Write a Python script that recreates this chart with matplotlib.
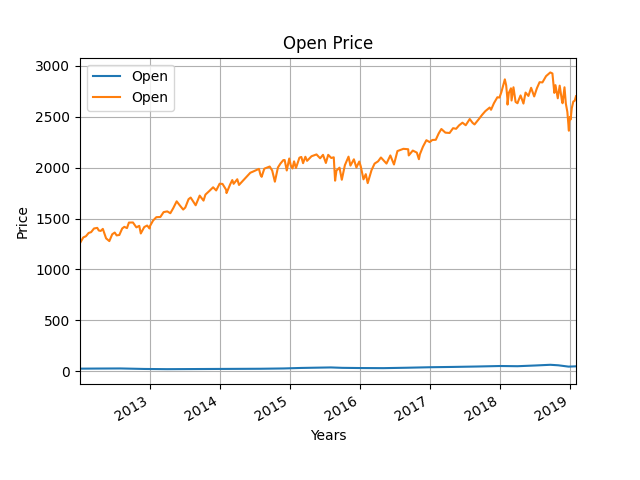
import pandas as pd
import matplotlib
matplotlib.use("Agg")
from matplotlib import pyplot as plt

# S&P style index, open price
spx_dates = [
    "2012-01-03", "2012-01-20", "2012-02-03", "2012-02-17", "2012-03-01", "2012-03-16",
    "2012-04-02", "2012-04-10", "2012-04-20", "2012-05-01", "2012-05-18", "2012-06-04",
    "2012-06-19", "2012-07-02", "2012-07-12", "2012-07-26", "2012-08-10", "2012-08-21",
    "2012-09-04", "2012-09-14", "2012-10-05", "2012-10-23", "2012-11-07", "2012-11-15",
    "2012-12-03", "2012-12-18", "2012-12-31",
    "2013-01-02", "2013-01-18", "2013-02-04", "2013-02-25", "2013-03-14", "2013-04-02",
    "2013-04-18", "2013-05-03", "2013-05-21", "2013-06-05", "2013-06-24", "2013-07-05",
    "2013-07-22", "2013-08-02", "2013-08-28", "2013-09-18", "2013-10-08", "2013-10-18",
    "2013-11-07", "2013-11-27", "2013-12-13", "2013-12-31",
    "2014-01-15", "2014-02-03", "2014-02-05", "2014-02-24", "2014-03-07", "2014-03-14",
    "2014-04-02", "2014-04-11", "2014-04-28", "2014-05-13", "2014-06-09", "2014-06-24",
    "2014-07-24", "2014-08-01", "2014-08-07", "2014-08-21", "2014-09-18", "2014-10-01",
    "2014-10-15", "2014-10-31", "2014-11-13", "2014-11-28", "2014-12-05", "2014-12-16",
    "2014-12-29",
    "2015-01-06", "2015-01-15", "2015-01-23", "2015-02-02", "2015-02-20", "2015-03-02",
    "2015-03-11", "2015-03-23", "2015-04-01", "2015-04-24", "2015-05-20", "2015-06-08",
    "2015-06-23", "2015-07-08", "2015-07-20", "2015-08-05", "2015-08-18", "2015-08-25",
    "2015-09-01", "2015-09-17", "2015-09-29", "2015-10-15", "2015-11-03", "2015-11-13",
    "2015-12-01", "2015-12-14", "2015-12-29",
    "2016-01-06", "2016-01-20", "2016-02-01", "2016-02-11", "2016-03-02", "2016-03-18",
    "2016-04-05", "2016-04-20", "2016-05-19", "2016-06-08", "2016-06-27", "2016-07-15",
    "2016-08-15", "2016-09-09", "2016-09-12", "2016-10-03", "2016-10-24", "2016-11-04",
    "2016-11-09", "2016-11-25", "2016-12-13", "2016-12-30",
    "2017-01-13", "2017-01-31", "2017-02-15", "2017-03-01", "2017-03-22", "2017-04-13",
    "2017-05-01", "2017-05-17", "2017-06-01", "2017-06-19", "2017-07-06", "2017-07-27",
    "2017-08-11", "2017-08-21", "2017-09-11", "2017-09-29", "2017-10-16", "2017-11-08",
    "2017-11-15", "2017-11-30", "2017-12-18", "2017-12-29",
    "2018-01-08", "2018-01-26", "2018-02-02", "2018-02-08", "2018-02-09", "2018-02-16",
    "2018-02-27", "2018-03-02", "2018-03-12", "2018-03-23", "2018-04-02", "2018-04-06",
    "2018-04-18", "2018-05-03", "2018-05-14", "2018-05-29", "2018-06-12", "2018-06-28",
    "2018-07-12", "2018-07-26", "2018-08-10", "2018-08-29", "2018-09-20", "2018-10-01",
    "2018-10-11", "2018-10-17", "2018-10-29", "2018-11-08", "2018-11-20", "2018-11-23",
    "2018-12-03", "2018-12-10", "2018-12-18", "2018-12-24", "2018-12-26", "2018-12-27",
    "2018-12-31",
    "2019-01-03", "2019-01-04", "2019-01-10", "2019-01-18", "2019-01-25", "2019-02-01",
]
spx_open = [
    1258, 1314, 1326, 1358, 1366, 1402,
    1408, 1382, 1378, 1398, 1305, 1278,
    1345, 1362, 1334, 1338, 1402, 1418,
    1406, 1460, 1461, 1413, 1428, 1353,
    1416, 1431, 1402,
    1426, 1480, 1513, 1515, 1563, 1570,
    1552, 1601, 1669, 1632, 1588, 1608,
    1690, 1706, 1630, 1725, 1676, 1735,
    1770, 1807, 1776, 1842,
    1840, 1782, 1750, 1836, 1878, 1841,
    1886, 1830, 1865, 1896, 1950, 1962,
    1988, 1929, 1910, 1990, 2011, 1972,
    1862, 2002, 2040, 2074, 2075, 1972,
    2090,
    2022, 1992, 2062, 1996, 2098, 2105,
    2044, 2107, 2067, 2112, 2130, 2092,
    2126, 2046, 2126, 2095, 2102, 1872,
    1971, 2000, 1881, 2024, 2108, 2020,
    2082, 2001, 2060,
    2011, 1885, 1936, 1848, 1976, 2040,
    2062, 2100, 2040, 2120, 2031, 2163,
    2185, 2181, 2120, 2168, 2148, 2083,
    2131, 2206, 2270, 2251,
    2272, 2274, 2336, 2380, 2344, 2341,
    2388, 2382, 2415, 2442, 2417, 2478,
    2440, 2425, 2474, 2518, 2555, 2591,
    2569, 2633, 2692, 2689,
    2743, 2868, 2808, 2685, 2620, 2736,
    2780, 2660, 2790, 2646, 2633, 2655,
    2710, 2630, 2738, 2705, 2785, 2700,
    2780, 2840, 2838, 2900, 2936, 2926,
    2735, 2811, 2682, 2806, 2654, 2633,
    2790, 2630, 2547, 2401, 2363, 2442,
    2498,
    2492, 2474, 2585, 2650, 2657, 2702,
]

# single stock, open price
stock_dates = [
    "2012-01-03", "2012-04-02", "2012-08-01", "2012-12-03", "2013-04-01", "2013-08-01",
    "2013-12-02", "2014-04-01", "2014-08-01", "2014-12-01", "2015-03-02", "2015-06-01",
    "2015-08-03", "2015-10-01", "2016-01-04", "2016-05-02", "2016-09-01", "2017-01-03",
    "2017-05-01", "2017-09-01", "2018-01-02", "2018-04-02", "2018-07-02", "2018-09-20",
    "2018-11-01", "2018-12-24", "2019-02-01",
]
stock_open = [
    24, 25, 26, 21, 19, 20,
    21, 22, 23, 26, 31, 34,
    36, 32, 30, 29, 33, 38,
    41, 45, 50, 48, 55, 62,
    57, 44, 47,
]

spx_dates = pd.to_datetime(spx_dates)
stock_dates = pd.to_datetime(stock_dates)

fig, ax = plt.subplots(figsize=(6.4, 4.8), dpi=100)
ax.plot(stock_dates, stock_open, label="Open")
ax.plot(spx_dates, spx_open, label="Open")
ax.set_xlim(spx_dates[0], spx_dates[-1])
ax.set_title("Open Price")
ax.set_xlabel("Years")
ax.set_ylabel("Price")
ax.grid()
ax.legend(loc="upper left")
fig.autofmt_xdate()
fig.savefig("out.png")
